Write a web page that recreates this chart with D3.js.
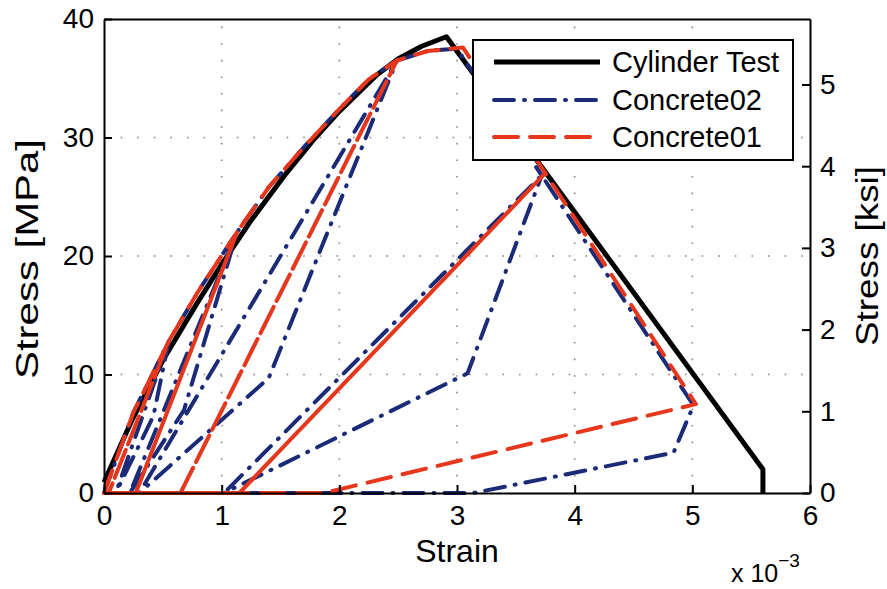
<!DOCTYPE html>
<html>
<head>
<meta charset="utf-8">
<script src="https://cdn.jsdelivr.net/npm/d3@7"></script>
<style>
  body { margin: 0; background: #fff; }
  text { font-family: "Liberation Sans", Arial, sans-serif; fill: #000; }
</style>
</head>
<body>
<svg id="chart" width="887" height="589"></svg>
<script>
// Axis ticks
const strainTicks = [0, 1, 2, 3, 4, 5, 6];      // strain x 10^-3
const stressTicks = [0, 10, 20, 30, 40];         // MPa
const ksiTicks = [0, 1, 2, 3, 4, 5];             // ksi
const MPA_PER_KSI = 6.89476;

// Cylinder test (monotonic envelope, then linear softening)
const cylinderStrain = [0, 0.24, 0.5, 0.79, 1.0, 1.25, 1.55, 1.78, 2.0, 2.32, 2.51, 2.7, 2.91, 5.6, 5.6];
const cylinderStress = [0.9, 6.2, 11.2, 16.0, 19.3, 23.0, 27.0, 29.8, 32.2, 35.3, 36.7, 37.7, 38.5, 2.0, 0];

// Concrete02 cyclic response
const concrete02Strain = [0, 0.25, 0.55, 0.42, 0.10, 0, 0.10, 0.55, 0.8, 1.13, 0.68, 0.22, 0, 0.22, 1.13, 1.4, 1.7, 2.0, 2.25, 2.49,
  1.40, 0.30, 0, 0.30, 2.49, 2.75, 3.0, 3.72, 3.09, 1.02, 0, 1.02, 3.72, 5.01, 4.84, 3.14, 0];
const concrete02Stress = [0, 6.8, 12.8, 6.5, 0, 0, 0, 12.8, 17.0, 22.0, 7.0, 0, 0, 0, 22.0, 25.8, 29.2, 32.4, 34.9, 36.5,
  9.7, 0, 0, 0, 36.5, 37.3, 37.5, 26.8, 10.1, 0, 0, 0, 26.8, 7.4, 3.4, 0, 0];

// Concrete01 cyclic response
const concrete01Strain = [0, 0.25, 0.55, 0.04, 0, 0.04, 0.55, 0.8, 1.13, 0.27, 0, 0.27, 1.13, 1.4, 1.7, 2.0, 2.25, 2.49,
  0.65, 0, 0.65, 2.49, 2.75, 3.05, 3.75, 1.15, 0, 1.15, 3.75, 5.03, 1.87, 0];
const concrete01Stress = [0, 6.8, 12.8, 0, 0, 0, 12.8, 17.0, 22.0, 0, 0, 0, 22.0, 25.8, 29.2, 32.4, 34.9, 36.5,
  0, 0, 0, 36.5, 37.3, 37.6, 27.0, 0, 0, 0, 27.0, 7.5, 0, 0];

const legendLabels = ["Cylinder Test", "Concrete02", "Concrete01"];

const svg = d3.select("#chart");
const plot = { left: 104, right: 810, top: 19, bottom: 493 };

const x = d3.scaleLinear().domain([0, 6]).range([plot.left, plot.right]);
const y = d3.scaleLinear().domain([0, 40]).range([plot.bottom, plot.top]);
const yKsi = d3.scaleLinear().domain([0, 40 / MPA_PER_KSI]).range([plot.bottom, plot.top]);

// Dotted grid
const grid = svg.append("g").attr("stroke", "#888").attr("stroke-width", 1.6)
  .attr("stroke-dasharray", "1.6,15").attr("fill", "none");
strainTicks.slice(1, -1).forEach(t => {
  grid.append("line").attr("x1", x(t)).attr("x2", x(t)).attr("y1", plot.bottom).attr("y2", plot.top);
});
stressTicks.slice(1, -1).forEach(t => {
  grid.append("line").attr("x1", plot.left).attr("x2", plot.right).attr("y1", y(t)).attr("y2", y(t));
});

// Series
const series = [
  { xs: cylinderStrain, ys: cylinderStress, color: "#000", width: 5, dash: null },
  { xs: concrete02Strain, ys: concrete02Stress, color: "#1c2b78", width: 4, dash: "20,10,1,10" },
  { xs: concrete01Strain, ys: concrete01Stress, color: "#e6361c", width: 4, dash: "24,12" }
];
const line = d3.line().x(d => x(d[0])).y(d => y(d[1]));
series.forEach(s => {
  const pts = s.xs.map((v, i) => [v, s.ys[i]]);
  svg.append("path").attr("d", line(pts)).attr("fill", "none")
    .attr("stroke", s.color).attr("stroke-width", s.width)
    .attr("stroke-linejoin", "round")
    .attr("stroke-linecap", s.dash ? "round" : "butt")
    .attr("stroke-dasharray", s.dash);
});

// Axes (ticks point inward)
const fmt = d3.format("d");
const axB = svg.append("g").attr("transform", `translate(0,${plot.bottom})`)
  .call(d3.axisBottom(x).tickValues(strainTicks).tickFormat(fmt).tickSizeInner(-8).tickSizeOuter(0).tickPadding(12));
const axT = svg.append("g").attr("transform", `translate(0,${plot.top})`)
  .call(d3.axisTop(x).tickValues([]).tickSizeOuter(0));
const axL = svg.append("g").attr("transform", `translate(${plot.left},0)`)
  .call(d3.axisLeft(y).tickValues(stressTicks).tickFormat(fmt).tickSizeInner(-8).tickSizeOuter(0).tickPadding(10));
const axR = svg.append("g").attr("transform", `translate(${plot.right},0)`)
  .call(d3.axisRight(yKsi).tickValues(ksiTicks).tickFormat(fmt).tickSizeInner(-8).tickSizeOuter(0).tickPadding(10));
[axB, axT, axL, axR].forEach(a => {
  a.selectAll("path.domain").attr("stroke", "#000").attr("stroke-width", 2);
  a.selectAll(".tick line").attr("stroke", "#000").attr("stroke-width", 2);
  a.selectAll("text").attr("font-size", 28).attr("font-family", "Liberation Sans, Arial, sans-serif");
});

// Axis titles
svg.append("text").attr("x", (plot.left + plot.right) / 2).attr("y", 562)
  .attr("text-anchor", "middle").attr("font-size", 32).text("Strain");
svg.append("text").attr("transform", `translate(38,${(plot.top + plot.bottom) / 2 + 3}) rotate(-90)`)
  .attr("text-anchor", "middle").attr("font-size", 32)
  .attr("textLength", 240).attr("lengthAdjust", "spacingAndGlyphs").text("Stress [MPa]");
svg.append("text").attr("transform", `translate(878,${(plot.top + plot.bottom) / 2}) rotate(-90)`)
  .attr("text-anchor", "middle").attr("font-size", 32)
  .attr("textLength", 180).attr("lengthAdjust", "spacingAndGlyphs").text("Stress [ksi]");
const mult = svg.append("text").attr("x", 731).attr("y", 582).attr("font-size", 25);
mult.append("tspan").text("x 10");
mult.append("tspan").attr("dy", -15).attr("font-size", 19).text("\u22123");

// Legend
const lg = svg.append("g");
lg.append("rect").attr("x", 473).attr("y", 40).attr("width", 320).attr("height", 120)
  .attr("fill", "#fff").attr("stroke", "#000").attr("stroke-width", 2);
const rows = [62, 100, 137];
series.forEach((s, i) => {
  lg.append("line").attr("x1", 494).attr("x2", 600).attr("y1", rows[i]).attr("y2", rows[i])
    .attr("stroke", s.color).attr("stroke-width", s.width)
    .attr("stroke-linecap", s.dash ? "round" : "butt").attr("stroke-dasharray", s.dash);
  lg.append("text").attr("x", 612).attr("y", rows[i] + 10).attr("font-size", 29).text(legendLabels[i]);
});
</script>
</body>
</html>
